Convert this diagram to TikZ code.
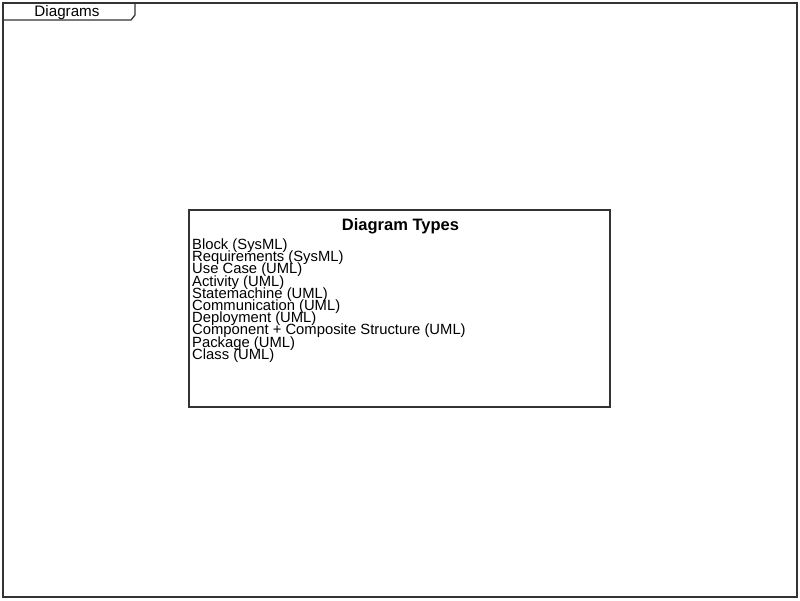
\documentclass[tikz,border=0pt]{standalone}
\usepackage{fontspec}
\setmainfont{Liberation Sans}
\begin{document}
\begin{tikzpicture}[x=1pt,y=-1pt,
  frame/.style={draw=black!80,line width=1.3pt},
  itemtxt/.style={inner sep=0pt,anchor=base west,font=\fontsize{14.8}{12}\selectfont},
  titletxt/.style={inner sep=0pt,anchor=base,font=\fontsize{16.5}{16}\selectfont\bfseries},
  tabtxt/.style={inner sep=0pt,anchor=base,font=\fontsize{15.2}{15}\selectfont}]
\useasboundingbox (0,0) rectangle (800,600);
\draw[frame] (3,3) rectangle (797,597);
\draw[frame] (3,20) -- (131,20) -- (135,15) -- (135,3);
\node[tabtxt] (tab) at (67,16.5) {Diagrams};
\draw[frame] (189,210) rectangle (610,407);
\node[titletxt] (title) at (400.5,230.5) {Diagram Types};
\foreach \t [count=\i from 0] in {Block (SysML),Requirements (SysML),Use Case (UML),Activity (UML),Statemachine (UML),Communication (UML),Deployment (UML),Component + Composite Structure (UML),Package (UML),Class (UML)}
  \node[itemtxt] (l\i) at (192,{249.5+12.2*\i}) {\t};
\end{tikzpicture}
\end{document}
